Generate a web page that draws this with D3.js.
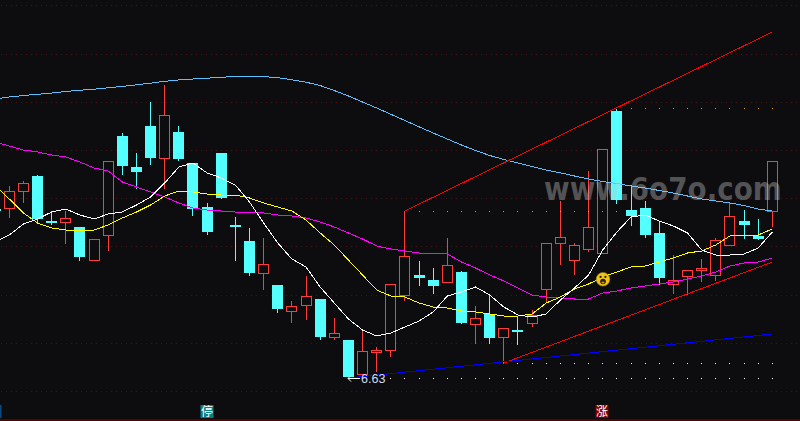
<!DOCTYPE html>
<html>
<head>
<meta charset="utf-8">
<script src="https://cdn.jsdelivr.net/npm/d3@7/dist/d3.min.js"></script>
<style>
html,body{margin:0;padding:0;background:#0d0d10;overflow:hidden}
svg{display:block}
</style>
</head>
<body>
<svg id="chart" width="800" height="421"></svg>
<script>
// Bar indices run from -1 (clipped at the left edge) to 54
const opens  = [8.32,8.33,8.50,8.65,8.20,8.19,8.14,7.81,8.06,9.05,8.74,9.15,8.83,9.09,8.78,8.34,8.88,8.16,8.00,7.68,7.56,7.30,7.36,7.42,7.04,7.01,6.67,6.89,6.91,7.46,7.66,7.61,7.59,7.69,7.17,7.27,7.04,7.11,7.18,7.52,7.98,7.81,7.92,7.88,9.30,8.31,8.33,8.08,7.57,7.65,7.71,7.66,7.96,8.20,8.05,8.30];
const closes = [8.31,8.50,8.58,8.22,8.19,8.23,7.84,8.02,8.80,8.75,8.69,8.83,9.26,8.82,8.32,8.09,8.43,8.14,7.68,7.77,7.32,7.35,7.45,7.04,7.08,6.64,6.90,6.91,7.57,7.85,7.63,7.55,7.76,7.18,7.23,7.03,7.13,7.09,7.26,7.98,8.04,7.96,8.14,8.92,8.41,8.25,8.06,7.63,7.61,7.71,7.73,8.01,8.25,8.16,8.02,8.80];
const highs  = [8.32,8.55,8.60,8.66,8.30,8.30,8.14,8.02,8.80,9.08,8.88,9.39,9.56,9.15,8.78,8.38,8.88,8.24,8.13,8.03,7.56,7.40,7.65,7.42,7.23,7.01,7.11,6.94,7.57,8.30,7.80,7.73,8.03,7.70,7.35,7.47,7.13,7.25,7.31,7.98,8.40,7.98,8.70,8.92,9.32,8.56,8.40,8.19,7.86,7.71,7.82,8.03,8.38,8.31,8.22,8.80];
const lows   = [8.31,8.24,8.39,8.18,8.17,7.98,7.81,7.81,7.91,8.67,8.53,8.77,8.53,8.81,8.26,8.07,8.43,7.81,7.66,7.52,7.29,7.19,7.22,7.02,7.02,6.63,6.67,6.70,6.85,7.41,7.56,7.48,7.59,7.18,6.98,6.98,6.78,6.97,7.15,7.40,7.77,7.67,7.90,7.88,8.38,8.16,8.04,7.57,7.48,7.47,7.60,7.61,7.96,8.03,8.02,8.15];

const maWhite   = [7.99,8.06,8.17,8.22,8.29,8.32,8.26,8.22,8.27,8.29,8.36,8.44,8.58,8.74,8.78,8.68,8.63,8.56,8.39,8.18,7.98,7.82,7.74,7.54,7.38,7.22,7.11,7.05,7.08,7.14,7.20,7.29,7.45,7.49,7.54,7.46,7.34,7.26,7.24,7.27,7.41,7.53,7.66,7.91,8.09,8.24,8.26,8.20,8.15,8.08,7.91,7.86,7.86,7.87,7.93,8.09];
const maYellow  = [8.56,8.42,8.28,8.18,8.13,8.11,8.10,8.11,8.16,8.23,8.29,8.36,8.45,8.50,8.49,8.47,8.46,8.46,8.43,8.38,8.34,8.30,8.21,8.08,7.96,7.81,7.66,7.51,7.45,7.44,7.38,7.34,7.33,7.30,7.29,7.27,7.25,7.25,7.27,7.38,7.44,7.52,7.57,7.64,7.69,7.74,7.75,7.79,7.83,7.88,7.90,7.96,8.05,8.06,8.06,8.12];
const maMagenta = [8.99,8.95,8.91,8.89,8.86,8.84,8.79,8.73,8.70,8.59,8.54,8.49,8.44,8.38,8.33,8.31,8.30,8.29,8.29,8.28,8.26,8.25,8.23,8.19,8.14,8.08,8.02,7.95,7.92,7.90,7.88,7.88,7.87,7.79,7.73,7.66,7.60,7.53,7.46,7.44,7.43,7.42,7.42,7.48,7.50,7.53,7.55,7.57,7.59,7.62,7.65,7.69,7.75,7.78,7.79,7.83];
const maBlue    = [9.42,9.44,9.455,9.467,9.48,9.495,9.508,9.518,9.532,9.546,9.562,9.578,9.597,9.611,9.62,9.628,9.638,9.644,9.645,9.644,9.634,9.612,9.588,9.555,9.505,9.45,9.39,9.33,9.267,9.205,9.142,9.08,9.02,8.96,8.905,8.855,8.815,8.78,8.745,8.71,8.682,8.65,8.62,8.595,8.575,8.55,8.53,8.505,8.48,8.45,8.42,8.40,8.38,8.355,8.32,8.30];

const gridPrices = [10.355,9.87,9.39,8.91,8.43,7.95,7.46,6.98,6.50];

// [start index, start price, end index, end price]
const trendRedUpper = [28,8.30,54,10.09];
const trendRedLower = [35,6.78,54,7.79];
const trendBlue     = [24,6.63,54,7.07];

// [price, first index, last index]
const dotsOrangeHigh = [9.33,44,54];
const dotsOrangeMid  = [8.30,29,43];
const dotsWhiteMid   = [6.78,36,54];
const dotsWhiteLow   = [6.63,27,54];

const lowLabel = "6.63";
const watermark = "www.6o7o.com";
const badges = [{i:-1,t:"",c:"#0a4a80"},{i:14,t:"停",c:"#0a8080"},{i:42,t:"涨",c:"#800000"}];

const W = 800, H = 421;
const idx = d3.range(-1, 55);
const x = d3.scaleLinear().domain([0,54]).range([9.3,772.3]);
const y = d3.scaleLinear().domain([10.41,6.20]).range([0,421]);
const cx = i => Math.floor(x(i));
const py = v => Math.round(y(v));
const svg = d3.select("#chart");
const BG = "#0d0d10", RED = "#ff3c3c", CYAN = "#54ffff";

svg.append("rect").attr("width",W).attr("height",H).attr("fill",BG);

// grid
svg.append("g").selectAll("line").data(gridPrices).join("line")
  .attr("x1",1).attr("x2",W)
  .attr("y1",d=>py(d)+.5).attr("y2",d=>py(d)+.5)
  .attr("stroke","#4a0f0f").attr("stroke-dasharray","1,4");
svg.append("line").attr("x1",0).attr("x2",W).attr("y1",420).attr("y2",420)
  .attr("stroke","#6a0000").attr("stroke-width",1.5);

// candles
const bars = idx.map((i,k)=>({i,o:opens[k],c:closes[k],h:highs[k],l:lows[k],up:closes[k]>=opens[k]}));
const gc = svg.append("g");
gc.selectAll("line").data(bars).join("line")
  .attr("x1",d=>cx(d.i)+.5).attr("x2",d=>cx(d.i)+.5)
  .attr("y1",d=>py(d.h)).attr("y2",d=>py(d.l)+1)
  .attr("stroke",d=>d.up?RED:CYAN);
gc.selectAll("rect").data(bars).join("rect")
  .attr("x",d=>d.up?cx(d.i)-4.5:cx(d.i)-5)
  .attr("y",d=>d.up?py(Math.max(d.o,d.c))+.5:py(Math.max(d.o,d.c)))
  .attr("width",d=>d.up?10:11)
  .attr("height",d=>{const h=py(Math.min(d.o,d.c))-py(Math.max(d.o,d.c));return d.up?h:Math.max(h,2);})
  .attr("fill",d=>d.up?BG:CYAN)
  .attr("stroke",d=>d.up?RED:"none")
  .attr("stroke-width",1);

// moving averages
const line = d3.line().x((d,k)=>x(idx[k])).y(d=>y(d));
[[maBlue,"#5cc0ff"],[maMagenta,"#ff00ff"],[maYellow,"#ffff00"],[maWhite,"#ffffff"]].forEach(([s,c])=>{
  svg.append("path").attr("d",line(s)).attr("fill","none").attr("stroke",c)
    .attr("stroke-width",1).attr("shape-rendering","crispEdges");
});

// dotted price levels
[[dotsOrangeHigh,"#e8a020"],[dotsOrangeMid,"#e8a020"],[dotsWhiteMid,"#ffffff"],[dotsWhiteLow,"#ffffff"]].forEach(([d,c])=>{
  svg.append("g").selectAll("rect").data(d3.range(d[1],d[2]+1)).join("rect")
    .attr("x",i=>cx(i)).attr("y",py(d[0])).attr("width",1).attr("height",1).attr("fill",c);
});

// trend lines
[[trendRedUpper,"#ff0000"],[trendRedLower,"#ff0000"],[trendBlue,"#0000ff"]].forEach(([t,c])=>{
  svg.append("line").attr("x1",x(t[0])).attr("y1",y(t[1])).attr("x2",x(t[2])).attr("y2",y(t[3]))
    .attr("stroke",c).attr("stroke-width",1).attr("shape-rendering","crispEdges");
});

// low label with arrow
const la = cx(24), ly = py(6.63)+.5;
svg.append("path").attr("d",`M${la+12},${ly}H${la}M${la+3},${ly-3}L${la},${ly}L${la+3},${ly+3}`)
  .attr("fill","none").attr("stroke","#ffffff");
svg.append("text").attr("x",la+13).attr("y",ly+4.5).text(lowLabel)
  .attr("font-family","Liberation Sans, Arial, sans-serif").attr("font-size",12.5).attr("fill","#d0deee");

// bottom badges
badges.forEach(b=>{
  const c = cx(b.i);
  svg.append("rect").attr("x",c-6.5).attr("y",405).attr("width",13).attr("height",13).attr("fill",b.c);
  if(b.t) svg.append("text").attr("x",c).attr("y",416).attr("text-anchor","middle").text(b.t)
    .attr("font-family","Noto Sans CJK SC").attr("font-size",12).attr("fill","#ffffff");
});

// face icon
const face = svg.append("g").attr("transform",`translate(${cx(42)+1},279.3)`);
face.append("circle").attr("r",6.8).attr("fill","#f0c418").attr("stroke","#a88210").attr("stroke-width",.6);
face.selectAll(".eye").data([-2.4,2.4]).join("circle").attr("class","eye").attr("cx",d=>d).attr("cy",-2.4).attr("r",1.1).attr("fill","#2a1e05");
face.append("ellipse").attr("cx",0).attr("cy",2.2).attr("rx",2.8).attr("ry",2.7).attr("fill","#2a1e05");
face.append("ellipse").attr("cx",0).attr("cy",3.2).attr("rx",1.5).attr("ry",1).attr("fill","#c89a30");

// watermark: vertical stretch keeps the full string inside the picture
svg.append("text").attr("transform","translate(544,199.5) scale(1,1.12)").text(watermark)
  .attr("font-family","DejaVu Sans, sans-serif").attr("font-weight","bold").attr("font-size",27.8)
  .attr("fill","#c8c8c8").attr("fill-opacity",.38);
</script>
</body>
</html>
